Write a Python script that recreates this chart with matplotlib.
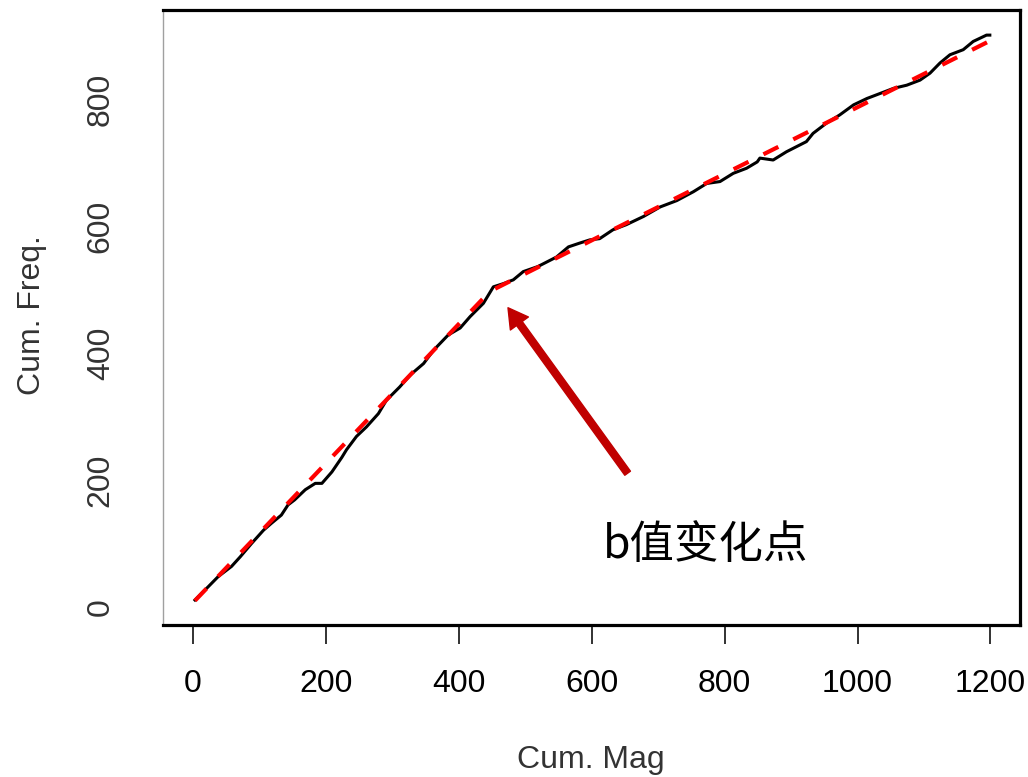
import matplotlib
matplotlib.use('Agg')
import matplotlib.pyplot as plt

# Cumulative magnitude vs cumulative frequency
cum_mag = [3, 23, 38, 58, 71, 88, 106, 118, 133, 143, 153, 169, 184, 194, 209, 224,
           231, 246, 261, 279, 291, 311, 327, 347, 362, 384, 402, 417, 437, 452, 467,
           482, 497, 519, 547, 565, 582, 597, 612, 632, 652, 678, 703, 728, 753, 773,
           793, 813, 833, 849, 853, 873, 893, 908, 923, 933, 953, 973, 994, 1014, 1034,
           1054, 1074, 1094, 1109, 1124, 1139, 1159, 1174, 1194, 1199]
cum_freq = [11, 32, 48, 64, 79, 100, 121, 132, 145, 161, 169, 185, 195, 195, 213, 236,
            248, 269, 284, 305, 326, 347, 366, 384, 405, 429, 440, 458, 479, 505, 510,
            516, 529, 537, 552, 568, 574, 579, 581, 595, 603, 616, 631, 641, 655, 668,
            671, 684, 692, 702, 708, 705, 718, 726, 734, 747, 763, 776, 792, 802, 810,
            818, 823, 831, 842, 858, 871, 879, 892, 902, 902]

# two-segment fit with the change point
fit_x = [3, 447, 1205]
fit_y = [10, 498, 896]

x_ticks = [0, 200, 400, 600, 800, 1000, 1200]
y_ticks = [0, 200, 400, 600, 800]

narrow = ['Liberation Sans Narrow', 'Liberation Sans', 'DejaVu Sans']

fig = plt.figure(figsize=(10.28, 7.77), dpi=100, facecolor='white')
ax = fig.add_axes([163/1028, 1 - 625/777, (1020 - 163)/1028, (625 - 10)/777])

ax.plot(cum_mag, cum_freq, color='black', lw=2.2, zorder=2)
ax.plot(fit_x, fit_y, color='#FF0000', lw=3.0, dashes=(4, 4), zorder=3)

ax.set_xlim(-45.1, 1244.4)
ax.set_ylim(-28.4, 941.6)

# spines: R-like box, left edge cropped thin
for s in ['top', 'right', 'bottom']:
    ax.spines[s].set_linewidth(2.3)
    ax.spines[s].set_color('black')
ax.spines['left'].set_linewidth(1.0)
ax.spines['left'].set_color('#A0A0A0')

ax.set_xticks(x_ticks)
ax.set_xticklabels([str(v) for v in x_ticks], family=narrow, fontsize=23)
ax.tick_params(axis='x', length=14, width=1.3, pad=18, color='#222222')

ax.set_yticks(y_ticks)
ax.set_yticklabels([str(v) for v in y_ticks], family=narrow, fontsize=23,
                   rotation=90, va='center', ha='right', color='#333333')
ax.tick_params(axis='y', length=0, pad=34)

fig.text(591/1028, 1 - 760/777, 'Cum. Mag', family=narrow, fontsize=23,
         ha='center', va='center', color='#333333')
fig.text(32/1028, 1 - 315/777, 'Cum. Freq.', family=narrow, fontsize=23,
         rotation=90, ha='center', va='center', color='#333333')

# change point arrow and note
ax.annotate('', xy=(474, 472), xytext=(654, 211),
            arrowprops=dict(facecolor='#C00000', edgecolor='#C00000',
                            width=5, headwidth=16, headlength=14, shrink=0))
ax.text(617, 98, 'b值变化点', family=['Noto Sans CJK SC', 'DejaVu Sans'],
        fontsize=32, ha='left', va='center', color='black')

fig.savefig('out.png', dpi=100, facecolor='white')
